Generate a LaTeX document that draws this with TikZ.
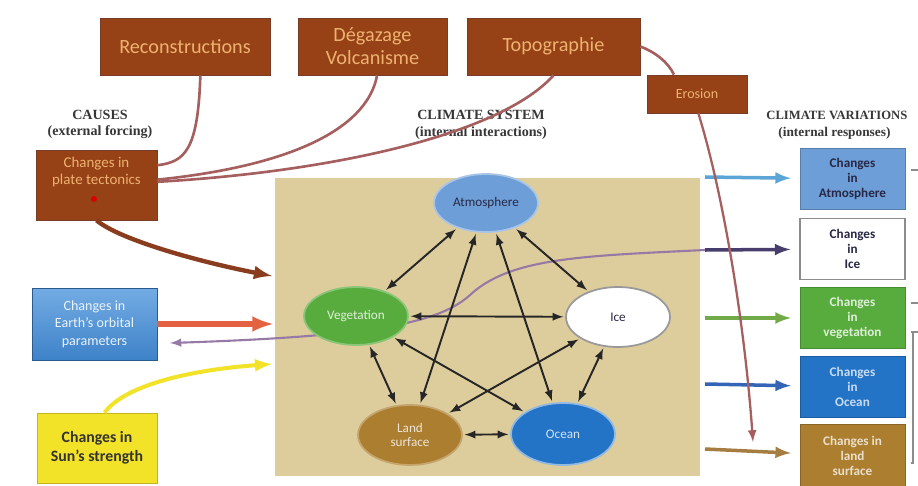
\documentclass[tikz,border=0pt]{standalone}
\usepackage{fontspec}
\setmainfont{Carlito}
\newfontfamily\headfont{Liberation Serif}
\usepackage{tikz}
\usetikzlibrary{shapes.geometric}

\definecolor{boxbrown}{RGB}{150,66,22}
\definecolor{boxedge}{RGB}{120,60,40}
\definecolor{boxtext}{RGB}{238,178,112}
\definecolor{sand}{RGB}{222,205,156}
\definecolor{linkred}{RGB}{165,95,95}
\definecolor{headgray}{RGB}{55,55,55}
\definecolor{atmblue}{RGB}{110,158,215}
\definecolor{veggreen}{RGB}{88,172,62}
\definecolor{landbrown}{RGB}{172,126,48}
\definecolor{oceanblue}{RGB}{35,115,198}
\definecolor{orbtop}{RGB}{115,172,228}
\definecolor{orbbot}{RGB}{62,130,200}
\definecolor{sunyellow}{RGB}{242,226,40}
\definecolor{arrowred}{RGB}{228,98,66}
\definecolor{tecbrown}{RGB}{138,60,30}
\definecolor{purpleline}{RGB}{150,122,165}
\definecolor{navyline}{RGB}{72,62,110}
\definecolor{skyline}{RGB}{92,166,215}
\definecolor{grassline}{RGB}{115,170,72}
\definecolor{sealine}{RGB}{52,100,182}
\definecolor{soilline}{RGB}{165,125,65}
\definecolor{darktext}{RGB}{40,40,70}

\begin{document}
\begin{tikzpicture}[x=0.02cm, y=-0.02cm]
  \tikzstyle{box} = [draw=boxedge, fill=boxbrown, text=boxtext, align=center, inner sep=1pt, font=\fontsize{11.5}{13}\selectfont]
  \tikzstyle{sphere} = [ellipse, minimum width=2.08cm, minimum height=1.16cm, inner sep=0pt, align=center, line width=1pt, font=\fontsize{7.5}{8.5}\selectfont]
  \tikzstyle{resp} = [rectangle, minimum width=2.1cm, minimum height=1.22cm, inner sep=1pt, align=center, font=\bfseries\fontsize{7.5}{8.5}\selectfont]
  \tikzstyle{head} = [align=center, text=headgray, inner sep=0pt, font=\headfont\bfseries\fontsize{8}{9}\selectfont]
  \tikzstyle{link} = [draw=linkred, line width=1.5pt]
  \tikzstyle{inter} = [draw=black!85, latex-latex, line width=1.1pt, shorten >=1pt, shorten <=1pt]
  \tikzstyle{line} = [draw, -latex, line width=2pt]

  \useasboundingbox (0,0) rectangle (918,486);
  \fill[sand] (275,178) rectangle (700,476);

  \node[box, minimum width=3.4cm, minimum height=1.14cm] (recon) at (185,46.5) {Reconstructions};
  \node[box, minimum width=2.98cm, minimum height=1.14cm] (degaz) at (372.5,46.5) {Dégazage\\Volcanisme};
  \node[box, minimum width=3.46cm, minimum height=1.14cm] (topo) at (553.5,46.5) {Topographie};
  \node[box, minimum width=2cm, minimum height=0.76cm, font=\fontsize{8}{9}\selectfont] (erosion) at (697,94) {Erosion};

  \node[head] (causes) at (100,115) {CAUSES};
  \node[head] (causessub) at (100,132) {(external forcing)};
  \node[head] (system) at (481,115) {CLIMATE SYSTEM};
  \node[head] (systemsub) at (481,133) {(internal interactions)};
  \node[head, anchor=west, font=\headfont\bfseries\fontsize{7.2}{8.5}\selectfont] (variation) at (766,115) {CLIMATE VARIATIONS};
  \node[head, anchor=west, font=\headfont\bfseries\fontsize{7.6}{8.5}\selectfont] (variationsub) at (778,133) {(internal responses)};

  \node[box, minimum width=2.42cm, minimum height=1.4cm, font=\fontsize{8.5}{10}\selectfont] (plate) at (96.5,185) {Changes in\\plate tectonics\\[6pt]};
  \node[draw=orbbot!70!black, top color=orbtop, bottom color=orbbot, text=white!85!orbtop, minimum width=2.5cm, minimum height=1.44cm, align=center, font=\fontsize{8}{10}\selectfont] (orbit) at (94.5,324) {Changes in\\Earth's orbital\\parameters};
  \node[draw=sunyellow!80!black, fill=sunyellow, text=black!80, minimum width=2.4cm, minimum height=1.4cm, align=center, font=\bfseries\fontsize{9}{10.5}\selectfont] (sun) at (97,448) {Changes in\\Sun's strength};
  \fill[red!85!black] (94,199) circle (3);

  \coordinate (tecend) at (272,276);
  \coordinate (orbend) at (273,324);
  \coordinate (sunend) at (272,364);
  \coordinate (purpend) at (170,343);

  \path [link] (recon.-62) .. controls (198,150) and (185,162) .. (plate.18);
  \path [link] (degaz.-81) .. controls (368,125) and (300,165) .. (plate.5);
  \path [link] (topo.south) .. controls (500,135) and (330,172) .. (plate.3);

  \path [line, draw=tecbrown, line width=2.5pt] (plate.south) .. controls (120,240) and (200,262) .. (tecend);
  \path [line, draw=arrowred, line width=3pt] (orbit.east) -- (orbend);
  \path [line, draw=sunyellow, line width=2.3pt] (sun.78) .. controls (125,385) and (190,370) .. (sunend);

  \node[resp, fill=atmblue, draw=atmblue!80!black, text=darktext] (ratm) at (852.5,179) {Changes\\in\\Atmosphere};
  \node[resp, fill=white, draw=black!45, line width=1pt, text=darktext] (rice) at (852.5,249) {Changes\\in\\Ice};
  \node[resp, fill=veggreen, draw=veggreen!80!black, text=white!80!veggreen] (rveg) at (852.5,318) {Changes\\in\\vegetation};
  \node[resp, fill=oceanblue, draw=oceanblue!80!black, text=white!75!oceanblue] (rocean) at (852.5,387) {Changes\\in\\Ocean};
  \node[resp, fill=landbrown, draw=landbrown!80!black, text=white!75!landbrown, minimum height=1.26cm] (rland) at (852.5,456) {Changes in\\land\\surface};

  \coordinate (rin1) at (705,177);
  \coordinate (rin2) at (705,250);
  \coordinate (rin3) at (705,318);
  \coordinate (rin4) at (705,384);
  \coordinate (rin5) at (705,449);

  \path [draw=purpleline, -latex, line width=1.2pt] (rin2) .. controls (580,256) and (510,258) .. (470,295) .. controls (440,322) and (380,336) .. (purpend);

  \node[sphere, fill=atmblue, draw=atmblue!60!white, text=darktext] (atm) at (486,203) {Atmosphere};
  \node[sphere, fill=veggreen, draw=veggreen!70!white, text=white!80!veggreen] (veg) at (356,316) {Vegetation};
  \node[sphere, fill=white, draw=black!40, text=darktext, minimum height=1.2cm] (ice) at (618,317) {Ice};
  \node[sphere, fill=landbrown, draw=landbrown!70!white, text=white!80!landbrown, minimum height=1.2cm] (land) at (410,435) {Land\\surface};
  \node[sphere, fill=oceanblue, draw=oceanblue!50!white, text=white!80!oceanblue, minimum height=1.24cm] (ocean) at (563,434) {Ocean};

  \foreach \a/\b in {atm/veg, atm/ice, atm/land, atm/ocean, veg/ice, veg/land, veg/ocean, ice/land, ice/ocean, land/ocean}
    \path [inter] (\a) -- (\b);

  \path [line, draw=skyline, shorten >=5pt] (rin1) -- (ratm);
  \path [line, draw=navyline, shorten >=5pt] (rin2) -- (rice);
  \path [line, draw=grassline, shorten >=5pt] (rin3) -- (rveg);
  \path [line, draw=sealine, shorten >=5pt] (rin4) -- (rocean);
  \path [line, draw=soilline, shorten >=5pt] (rin5) -- (rland);

  \coordinate (erosend) at (753,442);
  \path [link] (topo.east) .. controls (655,52) and (668,62) .. (erosion.140);
  \path [link, -latex, line width=1.3pt] (erosion.-86) .. controls (725,200) and (745,330) .. (erosend);

  \coordinate (stub1) at (911,170);
  \coordinate (stub2) at (911,303);
  \coordinate (stub3) at (911,332);
  \coordinate (stub4) at (911,463);
  \path [draw=black!45, line width=0.8pt] (stub1) -- ++(8,0);
  \path [draw=black!45, line width=0.8pt] (stub2) -- ++(8,0);
  \path [draw=black!45, line width=0.8pt] (stub3) -- ++(8,0) (stub3) ++(2,0) -- ++(0,131) -- (stub4);
\end{tikzpicture}
\end{document}
